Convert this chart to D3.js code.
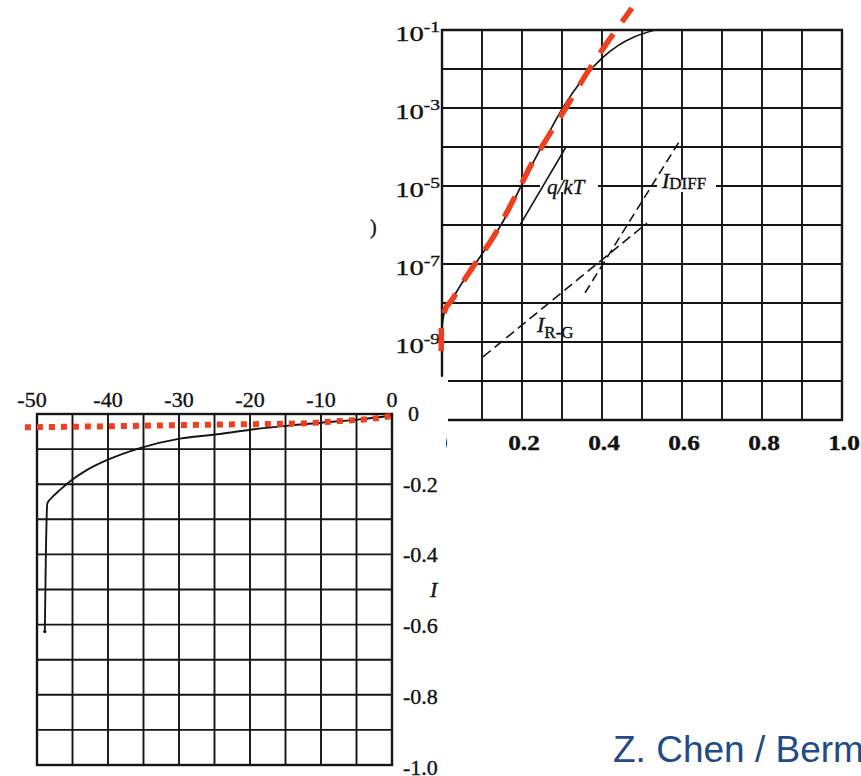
<!DOCTYPE html>
<html>
<head>
<meta charset="utf-8">
<script src="https://d3js.org/d3.v7.min.js"></script>
<style>
  html, body { margin: 0; padding: 0; background: #fff; }
  svg { display: block; }
  text { font-family: "Liberation Serif", "Times New Roman", serif; fill: #111; stroke: #111; stroke-width: 0.35px; }
</style>
</head>
<body>
<div id="graphic"></div>
<script>
// forward bias, log scale: [V, log10 I]
var fwdCurve = [[0,-9.9],[0.0004,-8.6],[0.0075,-8.18],[0.025,-7.9],[0.0525,-7.45],[0.0825,-7.0],
  [0.1125,-6.56],[0.1375,-6.17],[0.165,-5.68],[0.2,-4.95],[0.25,-3.97],[0.3,-3.03],[0.35,-2.28],
  [0.4,-1.72],[0.44,-1.4],[0.48,-1.18],[0.533,-1.0]]
var fwdFit = [[-0.002,-9.23],[-0.0016,-8.64],[0.0075,-8.18],[0.025,-7.92],[0.0525,-7.46],[0.0825,-7.0],
  [0.1125,-6.56],[0.1375,-6.15],[0.165,-5.62],[0.2,-4.92],[0.22,-4.51],[0.2625,-3.78],[0.3125,-2.95],
  [0.3625,-2.1],[0.4125,-1.33],[0.475,-0.44]]
var slopeLine = [[0.195,-6],[0.31,-4]]
var diffLine = [[0.3575,-7.74],[0.5975,-3.79]]
var rgLine = [[0.1025,-9.38],[0.5125,-5.95]]
var fwdXTicks = [0.2, 0.4, 0.6, 0.8, 1.0]
var fwdXLabels = ['0.2', '0.4', '0.6', '0.8', '1.0']
var fwdYTicks = [-1, -3, -5, -7, -9]
var fwdYLabels = ['-1', '-3', '-5', '-7', '-9']

// reverse bias, linear: [V, I]
var revCurve = [[-48.9,-0.62],[-48.75,-0.4],[-48.55,-0.255],[-48,-0.24],[-46.8,-0.217],[-45.1,-0.188],[-43,-0.16],
  [-40.1,-0.131],[-35.5,-0.097],[-29.9,-0.07],[-24.2,-0.057],[-19.7,-0.044],
  [-14.6,-0.033],[-10,-0.025],[-4.9,-0.016],[0,-0.005]]
var revFit = [[-51.7,-0.038],[-40,-0.035],[-24.2,-0.03],[-19.7,-0.029],[-13,-0.027],[-7.3,-0.02],
  [-3.1,-0.014],[0,-0.006]]
var revXTicks = [-50, -40, -30, -20, -10, 0]
var revXLabels = ['-50', '-40', '-30', '-20', '-10', '0']
var revYTicks = [0, -0.2, -0.4, -0.6, -0.8, -1.0]
var revYLabels = ['0', '-0.2', '-0.4', '-0.6', '-0.8', '-1.0']

var width = 861, height = 776
var ink = '#151515', red = '#ef3f1f'

var svg = d3.select('#graphic').append('svg').attr('width', width).attr('height', height)
svg.append('rect').attr('width', width).attr('height', height).attr('fill', '#fff')

// ---------- top panel ----------
var x1 = d3.scaleLinear().domain([0, 1]).range([442, 842])
var y1 = d3.scaleLog().domain([1e-11, 1e-1]).range([420, 30])
var g1 = svg.append('g')

// vertical grid
g1.selectAll('.vg').data(d3.range(1, 10).map(d => d / 10)).join('line')
  .attr('x1', d => x1(d)).attr('x2', d => x1(d))
  .attr('y1', y1(1e-1)).attr('y2', y1(1e-11))
  .attr('stroke', ink).attr('stroke-width', 1.9)
// horizontal grid
g1.selectAll('.hg').data(d3.range(-10, -1)).join('line')
  .attr('x1', d => d <= -10 ? x1(0.015) : x1(0)).attr('x2', x1(1))
  .attr('y1', d => y1(10 ** d)).attr('y2', d => y1(10 ** d))
  .attr('stroke', ink).attr('stroke-width', 1.9)
// frame
g1.append('path')
  .attr('d', `M${x1(0)},${y1(10 ** -9.87)}V${y1(1e-1)}H${x1(1)}V${y1(1e-11)}H${x1(0.015)}`)
  .attr('fill', 'none').attr('stroke', ink).attr('stroke-width', 2.4)

// white gaps behind labels
g1.append('rect').attr('x', 540).attr('y', y1(1e-5) - 6).attr('width', 58).attr('height', 12).attr('fill', '#fff')
g1.append('rect').attr('x', 657).attr('y', y1(1e-5) - 6).attr('width', 59).attr('height', 12).attr('fill', '#fff')

var line1 = d3.line().x(d => x1(d[0])).y(d => y1(10 ** d[1]))

g1.append('path').datum(fwdCurve)
  .attr('d', line1.curve(d3.curveMonotoneX))
  .attr('fill', 'none').attr('stroke', ink).attr('stroke-width', 1.7)

var straight = d3.line().x(d => x1(d[0])).y(d => y1(10 ** d[1]))
g1.append('path').datum(slopeLine).attr('d', straight)
  .attr('fill', 'none').attr('stroke', ink).attr('stroke-width', 1.5)
g1.append('path').datum(diffLine).attr('d', straight)
  .attr('fill', 'none').attr('stroke', ink).attr('stroke-width', 1.6).attr('stroke-dasharray', '9,5')
g1.append('path').datum(rgLine).attr('d', straight)
  .attr('fill', 'none').attr('stroke', ink).attr('stroke-width', 1.6).attr('stroke-dasharray', '10,5')

// labels in plot
g1.append('text').attr('x', 547).attr('y', 194)
  .style('font-style', 'italic').style('font-size', '21px').text('q/kT')
var td = g1.append('text').attr('x', 662).attr('y', 188).style('font-size', '22px')
td.append('tspan').style('font-style', 'italic').text('I')
td.append('tspan').attr('dy', 1).style('font-size', '17px').text('DIFF')
var tr = g1.append('text').attr('x', 537).attr('y', 332).style('font-size', '22px')
tr.append('tspan').style('font-style', 'italic').text('I')
tr.append('tspan').attr('dy', 6).style('font-size', '17px').text('R-G')

// axis labels
fwdXTicks.forEach((v, i) => {
  g1.append('text')
    .attr('transform', `translate(${x1(v) + 2},450) scale(1.15,1)`)
    .attr('text-anchor', 'middle').style('font-size', '22px').style('font-weight', 'bold')
    .text(fwdXLabels[i])
})
fwdYTicks.forEach((e, i) => {
  var t = g1.append('text')
    .attr('transform', `translate(440,${y1(10 ** e) + 11}) scale(1.3,1)`)
    .attr('text-anchor', 'end').style('font-size', '22px')
  t.append('tspan').text('10')
  t.append('tspan').attr('dy', -9).style('font-size', '15px').text(fwdYLabels[i])
})
// clipped "0" at the origin and stray bracket from cropped axis title
svg.append('clipPath').attr('id', 'c0').append('rect').attr('x', 446).attr('y', 420).attr('width', 20).attr('height', 40)
g1.append('text').attr('clip-path', 'url(#c0)')
  .attr('x', x1(0)).attr('y', 450).attr('text-anchor', 'middle').style('font-size', '22px').text('0')
g1.append('text').attr('x', 370).attr('y', 234).style('font-size', '20px').text(')')

// red fit overlay
g1.append('path').datum(fwdFit)
  .attr('d', line1.curve(d3.curveMonotoneX))
  .attr('fill', 'none').attr('stroke', red).attr('stroke-width', 5.5)
  .attr('stroke-dasharray', '23,15')

// ---------- bottom panel ----------
var x2 = d3.scaleLinear().domain([-50, 0]).range([37, 392])
var y2 = d3.scaleLinear().domain([-1, 0]).range([765, 414])
var g2 = svg.append('g')

g2.selectAll('.vg').data(d3.range(-45, 0, 5)).join('line')
  .attr('x1', d => x2(d)).attr('x2', d => x2(d))
  .attr('y1', y2(0)).attr('y2', y2(-1))
  .attr('stroke', ink).attr('stroke-width', 1.9)
g2.selectAll('.hg').data(d3.range(-9, 0).map(d => d / 10)).join('line')
  .attr('x1', x2(-50)).attr('x2', x2(0))
  .attr('y1', d => y2(d)).attr('y2', d => y2(d))
  .attr('stroke', ink).attr('stroke-width', 1.9)
g2.append('rect')
  .attr('x', x2(-50)).attr('y', y2(0))
  .attr('width', x2(0) - x2(-50)).attr('height', y2(-1) - y2(0))
  .attr('fill', 'none').attr('stroke', ink).attr('stroke-width', 2.4)

var line2 = d3.line().x(d => x2(d[0])).y(d => y2(d[1]))
g2.append('path').datum(revCurve)
  .attr('d', line2.curve(d3.curveMonotoneX))
  .attr('fill', 'none').attr('stroke', ink).attr('stroke-width', 1.9)
g2.append('circle').attr('cx', x2(-48.9)).attr('cy', y2(-0.62)).attr('r', 1.6).attr('fill', ink)

revXTicks.forEach((v, i) => {
  g2.append('text').attr('x', x2(v) - (v === -50 ? 5 : 0)).attr('y', 407)
    .attr('text-anchor', 'middle').style('font-size', '22px').text(revXLabels[i])
})
revYTicks.forEach((v, i) => {
  g2.append('text').attr('x', revYLabels[i][0] === '-' ? 403 : 408).attr('y', y2(v) + 7 + i * 0.5)
    .style('font-size', '22px').text(revYLabels[i])
})
g2.append('text').attr('x', 430).attr('y', 597)
  .style('font-style', 'italic').style('font-size', '22px').text('I')

g2.append('path').datum(revFit)
  .attr('d', line2.curve(d3.curveMonotoneX))
  .attr('fill', 'none').attr('stroke', red).attr('stroke-width', 6)
  .attr('stroke-dasharray', '6,6')

// credit
svg.append('text').attr('x', 613).attr('y', 762)
  .style('font-family', '"Liberation Sans", Arial, sans-serif').style('font-size', '37px')
  .style('fill', '#1f4b87').style('stroke', 'none')
  .text('Z. Chen / Berm')
</script>
</body>
</html>
